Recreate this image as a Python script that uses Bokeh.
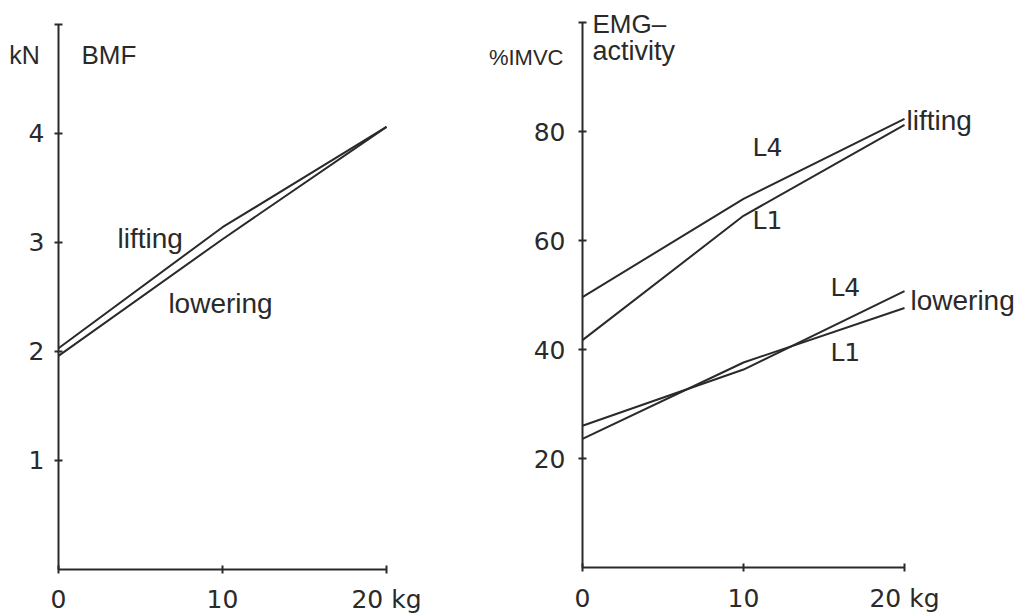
from bokeh.plotting import figure
from bokeh.layouts import row
from bokeh.models import FixedTicker, Range1d
from bokeh.core.properties import value
from bokeh.embed import file_html
from bokeh.resources import INLINE

# ---- data ----
kg = [0, 10, 20]
bmf_lifting = [2.03, 3.14, 4.06]
bmf_lowering = [1.96, 3.03, 4.06]

emg_lift_L4 = [49.7, 67.7, 82.4]
emg_lift_L1 = [41.8, 64.6, 81.3]
emg_low_L4 = [26.1, 36.4, 50.8]
emg_low_L1 = [23.7, 37.7, 47.7]

bmf_ticks = [1, 2, 3, 4, 5]
emg_ticks = [20, 40, 60, 80, 100]
kg_ticks = [0, 10, 20]
kg_labels = {0: "0", 10: "10", 20: "20 kg"}

INK = "#2a2a2a"
LABEL_FONT = "Liberation Sans"
NUM_FONT = "DejaVu Sans"


def make_panel(width, x_range, y_range, y_ticks, y_max):
    p = figure(width=width, height=614, x_range=Range1d(*x_range), y_range=Range1d(*y_range),
               output_backend="svg", toolbar_location=None,
               min_border_left=0, min_border_right=0, min_border_top=0, min_border_bottom=0)
    p.outline_line_color = None
    p.grid.visible = False
    p.background_fill_color = "white"
    p.border_fill_color = "white"
    for ax in (p.xaxis[0], p.yaxis[0]):
        ax.fixed_location = 0
        ax.axis_line_color = INK
        ax.axis_line_width = 2
        ax.major_tick_line_color = INK
        ax.major_tick_line_width = 2
        ax.major_tick_in = 4
        ax.major_tick_out = 4
        ax.minor_tick_line_color = None
        ax.major_label_text_font = NUM_FONT
        ax.major_label_text_color = INK
        ax.major_label_text_font_size = "25px"
    p.xaxis.ticker = FixedTicker(ticks=kg_ticks)
    p.xaxis.bounds = (0, 20)
    p.xaxis.major_label_overrides = kg_labels
    p.xaxis.major_label_standoff = 12
    p.yaxis.ticker = FixedTicker(ticks=y_ticks)
    p.yaxis.bounds = (0, y_max)
    p.yaxis.major_label_overrides = {y_max: ""}
    p.yaxis.major_label_standoff = 10
    return p


def add_text(p, x, y, s, size, align="left", font=LABEL_FONT):
    p.text(x=[x], y=[y], text=[s], text_font=value(font), text_font_size=size,
           text_color=INK, text_align=align, text_baseline="middle")


# ---- left panel: BMF ----
left = make_panel(480, (-3.537, 25.73), (-0.413, 5.22), bmf_ticks, 5)
left.line(kg, bmf_lifting, line_color=INK, line_width=2)
left.line(kg, bmf_lowering, line_color=INK, line_width=2)
add_text(left, -2.07, 4.72, "kN", "25px", align="center")
add_text(left, 1.40, 4.72, "BMF", "26px")
add_text(left, 3.6, 3.04, "lifting", "28px")
add_text(left, 6.7, 2.44, "lowering", "28px")

# ---- right panel: EMG ----
right = make_panel(538, (-6.335, 27.08), (-8.53, 104.1), emg_ticks, 100)
right.yaxis.major_label_standoff = 13
for ys in (emg_lift_L4, emg_lift_L1, emg_low_L4, emg_low_L1):
    right.line(kg, ys, line_color=INK, line_width=2)
add_text(right, -1.18, 93.6, "%IMVC", "22px", align="right")
add_text(right, 0.62, 99.7, "EMG\u2013", "26px")
add_text(right, 0.62, 94.8, "activity", "27px")
add_text(right, 10.56, 77.2, "L4", "25px", font=NUM_FONT)
add_text(right, 10.56, 63.8, "L1", "25px", font=NUM_FONT)
add_text(right, 20.12, 82.1, "lifting", "28px")
add_text(right, 15.4, 51.5, "L4", "25px", font=NUM_FONT)
add_text(right, 20.37, 49.1, "lowering", "28px")
add_text(right, 15.4, 39.5, "L1", "25px", font=NUM_FONT)

layout = row(left, right)
open("out.html", "w").write(file_html(layout, INLINE))
